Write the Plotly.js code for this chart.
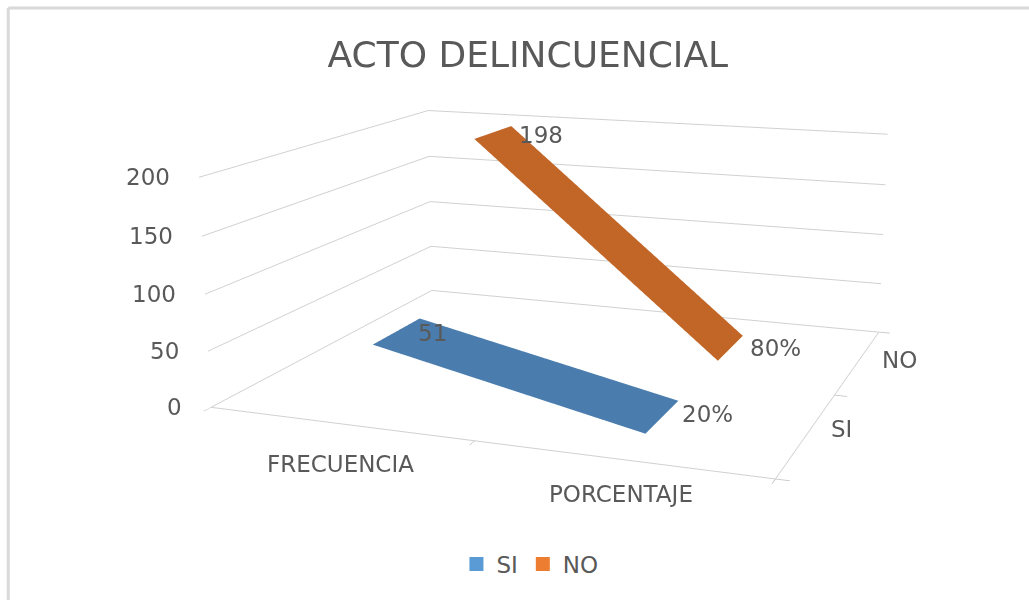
<!DOCTYPE html>
<html><head><meta charset="utf-8">
<script src="https://cdn.plot.ly/plotly-3.0.1.min.js"></script>
<style>html,body{margin:0;padding:0;background:#fff;overflow:hidden;height:600px}#chart{position:absolute;left:0;top:-408px;width:1029px;height:1340px}</style>
</head><body><div id="chart"></div>
<script>
const categories = ['FRECUENCIA','PORCENTAJE'];
const seriesNames = ['SI','NO'];
const siValues = [51,0.2];
const noValues = [198,0.8];
const siLabels = ['51','20%'];
const noLabels = ['198','80%'];
const zTicks = [0,50,100,150,200];
const ribbonColors = ['#4a7dae','#c26627'];
const legendColors = ['#5b9bd5','#ed7d31'];
const halfDepth = 0.21;
const textColor = '#595959';
const FONT = 'DejaVu Sans';
const H = 1340, TOP = 408;
const py = s => 1-(s+TOP)/H;

function ribbon(values,s,name,color){
  const y0=s+0.5-halfDepth,y1=s+0.5+halfDepth;
  return {type:'mesh3d',name:name,showlegend:false,hoverinfo:'skip',
    x:[0.5,0.5,1.5,1.5],y:[y0,y1,y0,y1],z:[values[0],values[0],values[1],values[1]],
    i:[0,1],j:[1,3],k:[2,2],color:color,flatshading:true,
    lighting:{ambient:1,diffuse:0,specular:0,roughness:1,fresnel:0}};
}
function legendItem(name,color){
  return {type:'scatter3d',mode:'markers',name:name,x:[null],y:[null],z:[null],
    marker:{symbol:'square',size:14,color:color},hoverinfo:'skip'};
}
const ann=(x,y,z,text,xs,ys,anchor)=>({x,y,z,text,showarrow:false,xshift:xs,yshift:ys,xanchor:anchor||'center',
  font:{family:FONT,size:23,color:textColor}});
const annotations=[];
zTicks.forEach(t=>annotations.push(ann(0,0,t,String(t),-27,0,'right')));
annotations.push(ann(0.5,0,0,categories[0],1,-40));
annotations.push(ann(1.5,0,0,categories[1],1,-35));
annotations.push(ann(2,0.5,0,seriesNames[0],34,5));
annotations.push(ann(2,1.5,0,seriesNames[1],41,2));
annotations.push(ann(0.5,1.5,noValues[0],noLabels[0],48,-3));
annotations.push(ann(1.5,1.5,noValues[1],noLabels[1],45,0));
annotations.push(ann(0.5,0.5,siValues[0],siLabels[0],35,-2));
annotations.push(ann(1.5,0.5,siValues[1],siLabels[1],45,3));
const axisBase={title:{text:''},showticklabels:false,showbackground:false,showspikes:false,
  linecolor:'#d0d0d0',linewidth:2,tickcolor:'#c8c8c8',ticklen:10,tickwidth:2,ticks:'outside',zeroline:false};
const data=[ribbon(siValues,0,seriesNames[0],ribbonColors[0]),ribbon(noValues,1,seriesNames[1],ribbonColors[1]),
  legendItem(seriesNames[0],legendColors[0]),legendItem(seriesNames[1],legendColors[1])];
const layout={width:1029,height:H,margin:{l:0,r:0,t:0,b:0},paper_bgcolor:'#fff',
  title:{text:'ACTO DELINCUENCIAL',x:0.513,xanchor:'center',y:py(54),yanchor:'middle',font:{family:FONT,size:36,color:textColor}},
  showlegend:true,
  legend:{orientation:'h',x:0.515,xanchor:'center',y:py(564),yanchor:'middle',font:{family:FONT,size:23,color:textColor}},
  shapes:[{type:'line',xref:'paper',yref:'paper',x0:0.008,x1:1,y0:py(8),y1:py(8),line:{color:'#d9d9d9',width:3}},
          {type:'line',xref:'paper',yref:'paper',x0:0.008,x1:0.008,y0:py(8),y1:py(640),line:{color:'#d9d9d9',width:3}}],
  scene:{domain:{x:[0.110,1],y:[0,1]},
    aspectmode:'manual',aspectratio:{x:2.0,y:1.79,z:0.81},
    camera:{eye:{x:2.046,y:-5.478,z:1.35},center:{x:0,y:0,z:0},up:{x:0,y:0,z:1},projection:{type:'perspective'}},
    xaxis:Object.assign({},axisBase,{range:[0,2],tickvals:[0,1,2],showgrid:false,showline:true}),
    yaxis:Object.assign({},axisBase,{range:[0,2],tickvals:[0,1,2],showgrid:false,showline:true}),
    zaxis:Object.assign({},axisBase,{range:[0,200],tickvals:zTicks,showgrid:true,gridcolor:'#d0d0d0',gridwidth:2,showline:false,ticks:''}),
    annotations:annotations}};
Plotly.newPlot('chart',data,layout,{displayModeBar:false});
</script></body></html>
